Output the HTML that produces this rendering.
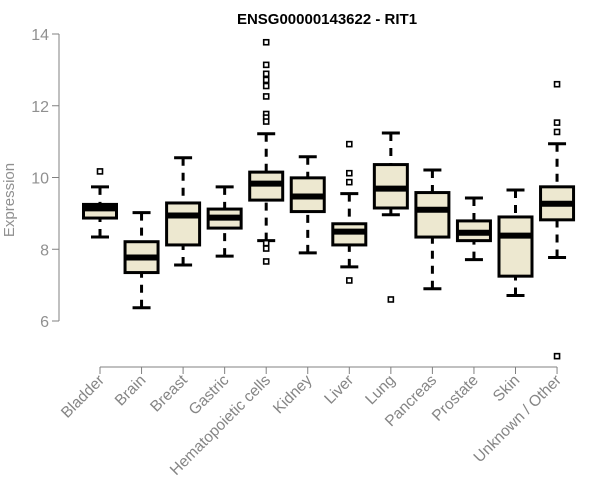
<!DOCTYPE html>
<html><head><meta charset="utf-8"><style>
body{margin:0;background:#fff}
svg{display:block;font-family:"Liberation Sans",Arial,sans-serif}
</style></head><body>
<svg id="chart" width="600" height="500">
<text x="327" y="24" text-anchor="middle" font-weight="bold" font-size="15" fill="#000">ENSG00000143622 - RIT1</text>
<text transform="translate(14,200) rotate(-90)" text-anchor="middle" font-size="15" fill="#909090">Expression</text>
<g id="yaxis"></g>
<g id="xaxis"></g>
<g id="boxes"></g>
</svg>
<script>
const categories=["Bladder","Brain","Breast","Gastric","Hematopoietic cells","Kidney","Liver","Lung","Pancreas","Prostate","Skin","Unknown / Other"];
const whiskerLow=[8.34,6.37,7.56,7.81,8.24,7.90,7.51,8.96,6.90,7.71,6.71,7.77];
const q1=[8.87,7.35,8.12,8.59,9.37,9.05,8.12,9.15,8.34,8.24,7.25,8.82];
const medians=[9.14,7.77,8.94,8.88,9.83,9.47,8.49,9.69,9.10,8.46,8.38,9.27];
const q3=[9.25,8.21,9.29,9.12,10.15,9.99,8.71,10.36,9.58,8.79,8.90,9.74];
const whiskerHigh=[9.74,9.02,10.55,9.74,11.22,10.58,9.55,11.24,10.21,9.43,9.65,10.94];
const outliers=[[10.17],[],[],[],[13.77,13.14,12.89,12.72,12.55,12.26,11.77,11.67,11.56,8.17,8.02,7.66],[],[10.93,10.12,9.87,7.13],[6.60],[],[],[],[12.6,11.53,11.27,5.02]];
const yTicks=[6,8,10,12,14];
const NS="http://www.w3.org/2000/svg";
function y(v){return 321-(v-6)*35.875;}
function x(i){return 100+i*41.55;}
function mk(tag,attrs,parent){const e=document.createElementNS(NS,tag);for(const k in attrs)e.setAttribute(k,attrs[k]);parent.appendChild(e);return e;}
const ya=document.getElementById('yaxis'),xa=document.getElementById('xaxis'),bx=document.getElementById('boxes');
mk('line',{x1:59,x2:59,y1:y(14),y2:y(6),stroke:'#808080','stroke-width':1},ya);
yTicks.forEach(t=>{
 mk('line',{x1:52,x2:59,y1:y(t),y2:y(t),stroke:'#808080'},ya);
 const tx=mk('text',{x:49,y:y(t)+6,'text-anchor':'end','font-size':16,fill:'#909090'},ya);
 tx.textContent=t;
 
 
});
mk('line',{x1:x(0),x2:x(11),y1:367,y2:367,stroke:'#808080'},xa);
categories.forEach((c,i)=>{
 mk('line',{x1:x(i),x2:x(i),y1:367,y2:374,stroke:'#808080'},xa);
 const tx=mk('text',{transform:`translate(${x(i)+5},${381}) rotate(-45)`,'text-anchor':'end','font-size':15.5,fill:'#858585'},xa);
 tx.textContent=c;
 
 
 const g=mk('g',{},bx);
 
 
 const cx=x(i);
 mk('line',{x1:cx,x2:cx,y1:y(whiskerHigh[i]),y2:y(q3[i]),stroke:'#000','stroke-width':3,'stroke-dasharray':'8,7'},g);
 mk('line',{x1:cx,x2:cx,y1:y(whiskerLow[i]),y2:y(q1[i]),stroke:'#000','stroke-width':3,'stroke-dasharray':'8,7'},g);
 mk('line',{x1:cx-9,x2:cx+9,y1:y(whiskerHigh[i]),y2:y(whiskerHigh[i]),stroke:'#000','stroke-width':3},g);
 mk('line',{x1:cx-9,x2:cx+9,y1:y(whiskerLow[i]),y2:y(whiskerLow[i]),stroke:'#000','stroke-width':3},g);
 mk('rect',{x:cx-16.5,y:y(q3[i]),width:33,height:y(q1[i])-y(q3[i]),fill:'#ede8d0',stroke:'#000','stroke-width':3},g);
 mk('line',{x1:cx-16.5,x2:cx+16.5,y1:y(medians[i]),y2:y(medians[i]),stroke:'#000','stroke-width':6},g);
 outliers[i].forEach(o=>{
  const p=mk('rect',{x:cx-2.5,y:y(o)-2.5,width:5,height:5,fill:'#fff',stroke:'#000','stroke-width':1.6},g);
  
  
 });
});
</script>
</body></html>
